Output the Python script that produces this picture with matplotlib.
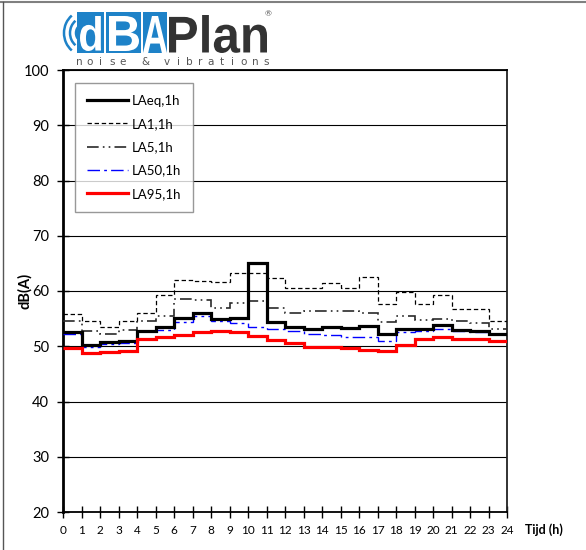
import matplotlib
matplotlib.use("Agg")
import matplotlib.pyplot as plt
from matplotlib.patches import Rectangle, Arc, PathPatch
from matplotlib.textpath import TextPath
from matplotlib.font_manager import FontProperties
from matplotlib.transforms import Affine2D
from matplotlib.lines import Line2D

# ---------------- data ----------------
hours = list(range(0, 25))
hour_labels = [str(h) for h in hours]
yticks = [20, 30, 40, 50, 60, 70, 80, 90, 100]

laeq = [52.5, 50.2, 50.7, 51.0, 52.8, 53.4, 55.2, 56.0, 54.9, 55.2, 65.1, 54.3,
        53.5, 53.2, 53.4, 53.3, 53.6, 52.2, 53.1, 53.2, 53.8, 52.9, 52.8, 52.3]
la1 = [55.8, 54.5, 53.5, 54.6, 56.0, 59.3, 62.0, 61.8, 61.7, 63.3, 63.3, 62.3,
       60.5, 60.6, 61.4, 60.6, 62.6, 57.6, 59.9, 57.6, 59.3, 56.7, 56.7, 54.5]
la5 = [54.6, 52.8, 52.2, 52.9, 54.6, 55.4, 58.5, 58.4, 57.0, 57.9, 58.1, 57.0,
       56.0, 56.3, 56.4, 56.3, 56.1, 54.3, 55.5, 54.8, 54.9, 54.6, 54.2, 53.1]
la50 = [52.2, 49.8, 50.4, 50.6, 52.7, 53.0, 54.3, 55.4, 54.6, 54.2, 53.4, 53.1,
        52.7, 52.2, 52.0, 51.7, 51.6, 51.0, 52.5, 52.8, 53.1, 52.7, 52.5, 52.2]
la95 = [49.7, 48.7, 49.0, 49.1, 51.3, 51.6, 52.0, 52.6, 52.8, 52.5, 51.9, 51.1,
        50.5, 49.9, 49.9, 49.6, 49.3, 49.1, 50.2, 51.4, 51.7, 51.3, 51.4, 51.0]

series_names = ["LAeq,1h", "LA1,1h", "LA5,1h", "LA50,1h", "LA95,1h"]

FONT = ["Lato", "DejaVu Sans"]
plt.rcParams["font.family"] = FONT

W, H = 586, 550
fig = plt.figure(figsize=(W / 100, H / 100), dpi=100)
fig.patch.set_facecolor("white")

ax = fig.add_axes([63 / W, 1 - 512 / H, (507 - 63) / W, (512 - 70) / H])

styles = [
    dict(color="black", lw=2.3, ls="-"),
    dict(color="black", lw=0.9, ls=(0, (3.5, 2.2))),
    dict(color="#2a2a2a", lw=1.2, ls=(0, (7, 2.5, 1, 2.5, 1, 2.5))),
    dict(color="#0000ff", lw=1.0, ls=(0, (9, 3, 2, 3))),
    dict(color="#ff0000", lw=2.3, ls="-"),
]
data = [laeq, la1, la5, la50, la95]
zorders = [4, 3, 3, 3, 5]
handles = []
for vals, st, name, z in zip(data, styles, series_names, zorders):
    ax.stairs(vals, hours, baseline=None, color=st["color"], linewidth=st["lw"],
              linestyle=st["ls"], zorder=z)
    handles.append(Line2D([], [], color=st["color"], lw=st["lw"], ls=st["ls"], label=name))

ax.set_xlim(0, 24)
ax.set_ylim(20, 100)
ax.set_xticks(hours)
ax.set_xticklabels(hour_labels, fontsize=8.5)
ax.set_yticks(yticks)
ax.set_yticklabels([str(v) for v in yticks], fontsize=10.5)
ax.tick_params(axis="both", direction="inout", length=8, width=1, color="black")
ax.tick_params(axis="x", pad=5)
ax.tick_params(axis="y", pad=6)
ax.yaxis.grid(True, color="black", lw=0.8)
ax.set_axisbelow(True)
ax.spines["left"].set_linewidth(2)
for s in ["top", "bottom", "right"]:
    ax.spines[s].set_linewidth(1.3)
ax.spines["right"].set_color("#222222")

ax.set_ylabel("dB(A)", fontsize=10.5, fontweight="bold")
ax.yaxis.set_label_coords((32 - 63) / 444, 0.5)
fig.text(525 / W, 1 - 530 / H, "Tijd (h)", fontsize=9, fontweight="bold",
         ha="left", va="center")

leg = ax.legend(handles=handles, loc="upper left", bbox_to_anchor=(0.027, 0.9706),
                fontsize=9.5, frameon=True, fancybox=False, handlelength=3.1,
                handletextpad=0.3, labelspacing=0.85, borderpad=0.9,
                borderaxespad=0)
leg.get_frame().set_edgecolor("#7f7f7f")
leg.get_frame().set_linewidth(1.0)
leg.set_zorder(10)

# ---------------- page frame remnants ----------------
fig.add_artist(Line2D([0, 1], [1 - 2 / H, 1 - 2 / H], transform=fig.transFigure,
                      color="#808080", lw=1.5))
fig.add_artist(Line2D([3 / W, 3 / W], [0, 1 - 2 / H], transform=fig.transFigure,
                      color="#555555", lw=1.0))

# ---------------- logo ----------------
BLUE = "#1e82c8"


def px(x, y):
    return x / W, 1 - y / H


def text_in_box(s, x0, y0, x1, y1, color, weight="bold", family="Liberation Sans"):
    fp = FontProperties(family=family, weight=weight)
    tp = TextPath((0, 0), s, prop=fp, size=50)
    ext = tp.get_extents()
    sx = (x1 - x0) / ext.width
    sy = (y1 - y0) / ext.height
    tr = (Affine2D().translate(-ext.x0, -ext.y0).scale(sx / 100, sy / 100)
          .translate(x0 / 100, (H - y1) / 100) + fig.dpi_scale_trans)
    p = PathPatch(tp, facecolor=color, edgecolor="none", transform=tr)
    fig.add_artist(p)


# blue blocks for d, B, A
for bx0, bx1 in [(77, 104), (106, 141), (143, 167)]:
    fig.add_artist(Rectangle(px(bx0, 53), (bx1 - bx0) / W, 41 / H,
                             transform=fig.transFigure, facecolor=BLUE, edgecolor="none"))
text_in_box("d", 80, 16, 101, 51, "white")
text_in_box("B", 109, 16, 139, 51, "white")
text_in_box("A", 143, 16, 167, 53, "white")
text_in_box("Plan", 169, 15, 267, 53, "#333333")
fig.text(268 / W, 1 - 14 / H, "®", fontsize=6, color="#555555", ha="center", va="center")

# sound waves
for r in [8, 14, 20]:
    fig.add_artist(Arc((84 / 100, (H - 33) / 100), 2 * r / 100, 2.2 * r / 100,
                       theta1=125, theta2=235, transform=fig.dpi_scale_trans,
                       color=BLUE, lw=1.8))

slogan = "noise & vibrations"
for i, ch in enumerate(slogan):
    fig.text((79 + i * 11) / W, 1 - 62 / H, ch, fontsize=7.5, color="#555555",
             ha="center", va="center", family=["DejaVu Sans"])

fig.savefig("out.png", dpi=100, facecolor="white")
